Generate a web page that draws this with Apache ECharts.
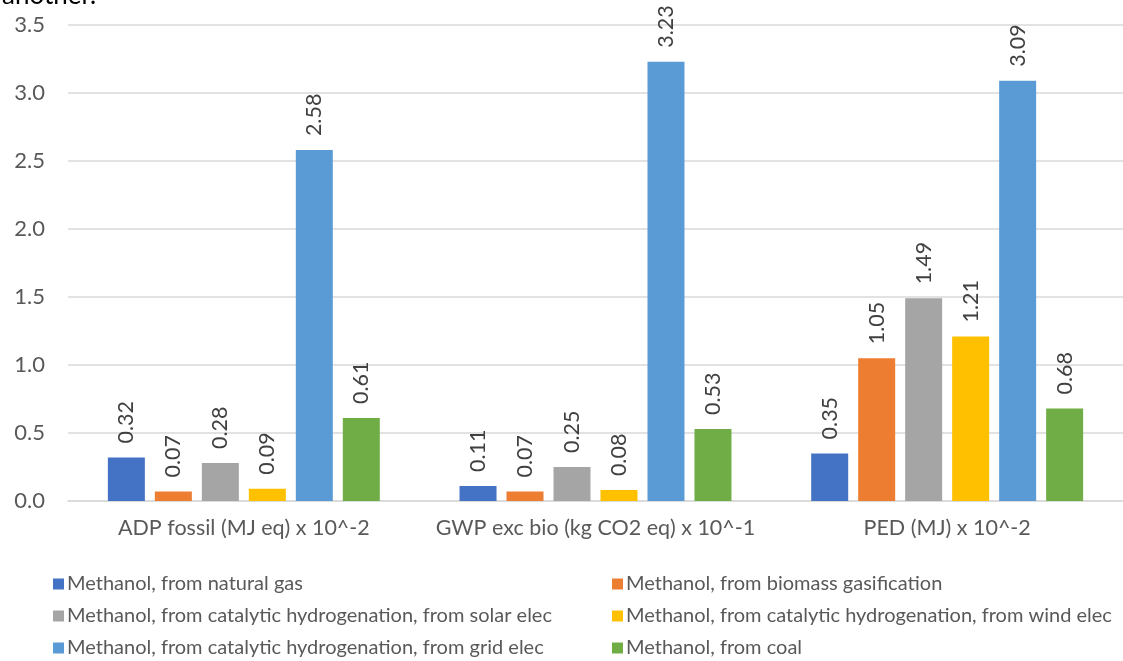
<!DOCTYPE html>
<html>
<head>
<meta charset="utf-8">
<style>
  html, body { margin: 0; padding: 0; background: #fff; }
  #chart { width: 1123px; height: 661px; }
</style>
<script src="https://cdn.jsdelivr.net/npm/echarts@6/dist/echarts.min.js"></script>
</head>
<body>
<div id="chart"></div>
<script>
// Impact categories on the x axis
const categories = ['ADP fossil (MJ eq) x 10^-2', 'GWP exc bio (kg CO2 eq) x 10^-1', 'PED (MJ) x 10^-2'];

// Methanol production routes
const seriesNames = [
  'Methanol, from natural gas',
  'Methanol, from biomass gasification',
  'Methanol, from catalytic hydrogenation, from solar elec',
  'Methanol, from catalytic hydrogenation, from wind elec',
  'Methanol, from catalytic hydrogenation, from grid elec',
  'Methanol, from coal'
];

// Values per route, one per impact category
const naturalGas = [0.32, 0.11, 0.35];
const biomass = [0.07, 0.07, 1.05];
const solarElec = [0.28, 0.25, 1.49];
const windElec = [0.09, 0.08, 1.21];
const gridElec = [2.58, 3.23, 3.09];
const coal = [0.61, 0.53, 0.68];

const yTicks = [0, 0.5, 1.0, 1.5, 2.0, 2.5, 3.0, 3.5];

const seriesValues = [naturalGas, biomass, solarElec, windElec, gridElec, coal];
const colors = ['#4472C4', '#ED7D31', '#A5A5A5', '#FFC000', '#5B9BD5', '#70AD47'];

const FONT = 'Lato, "Open Sans", sans-serif';

const chart = echarts.init(document.getElementById('chart'), null, { renderer: 'canvas' });

// Legend laid out as two columns of three rows
const legendPos = [
  { left: 48, top: 569 }, { left: 607, top: 569 },
  { left: 48, top: 601 }, { left: 607, top: 601 },
  { left: 48, top: 633 }, { left: 607, top: 633 }
];

const legends = seriesNames.map((name, i) => ({
  data: [name],
  left: legendPos[i].left,
  top: legendPos[i].top,
  icon: 'rect',
  itemWidth: 11,
  itemHeight: 11,
  itemGap: 0,
  selectedMode: false,
  textStyle: { color: '#595959', fontSize: 20, fontFamily: FONT, padding: [0, 0, 0, -2] }
}));

chart.setOption({
  animation: false,
  color: colors,
  graphic: [{
    type: 'text',
    left: 2,
    top: -17,
    style: { text: 'another.', fontSize: 26, fontFamily: FONT, fill: '#000' }
  }],
  legend: legends,
  grid: { left: 68, top: 25, width: 1068, height: 476, containLabel: false },
  xAxis: {
    type: 'category',
    data: categories,
    axisLine: { show: true, lineStyle: { color: '#D9D9D9', width: 1.5 } },
    axisTick: { show: false },
    axisLabel: { interval: 0, color: '#595959', fontSize: 21.5, fontFamily: FONT, margin: 16 }
  },
  yAxis: {
    type: 'value',
    min: 0,
    max: 3.5,
    interval: 0.5,
    axisLine: { show: false },
    axisTick: { show: false },
    splitLine: { lineStyle: { color: '#D9D9D9', width: 1.5 } },
    axisLabel: {
      color: '#595959', fontSize: 22, fontFamily: FONT, margin: 23,
      formatter: v => yTicks.includes(v) ? v.toFixed(1) : ''
    }
  },
  series: seriesValues.map((vals, i) => ({
    name: seriesNames[i],
    type: 'bar',
    data: vals,
    barWidth: 37,
    barGap: '27%',
    itemStyle: { color: colors[i] },
    label: {
      show: true,
      position: 'top',
      rotate: 90,
      align: 'left',
      verticalAlign: 'middle',
      distance: 14,
      color: '#404040',
      fontSize: 21.5,
      fontFamily: FONT,
      formatter: p => p.value.toFixed(2)
    }
  }))
});
</script>
</body>
</html>
